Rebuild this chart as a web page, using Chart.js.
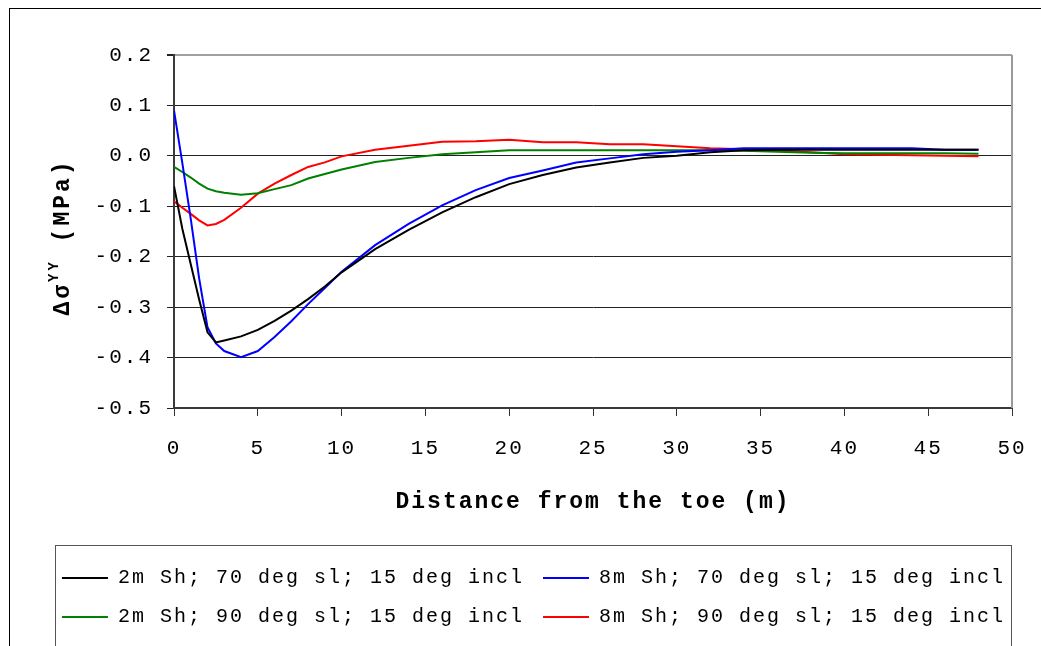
<!DOCTYPE html>
<html>
<head>
<meta charset="utf-8">
<script src="https://cdn.jsdelivr.net/npm/chart.js@4"></script>
<style>
  html, body { margin: 0; padding: 0; background: #fff; }
  #wrap { width: 1041px; height: 646px; }
</style>
</head>
<body>
<div id="wrap"><canvas id="grafico" width="1041" height="646"></canvas></div>
<script>
// Data
const distancias = [0, 0.5, 1, 1.5, 2, 2.5, 3, 4, 5, 6, 7, 8, 9, 10, 12, 14, 16, 18, 20, 22, 24, 26, 28, 30, 32, 34, 36, 38, 40, 42, 44, 46, 48];

const negro2m70 = [-0.060, -0.145, -0.215, -0.285, -0.350, -0.370, -0.366, -0.358, -0.345, -0.327, -0.307, -0.284, -0.259, -0.231, -0.185, -0.147, -0.112, -0.082, -0.056, -0.038, -0.023, -0.013, -0.004, 0.000, 0.007, 0.011, 0.012, 0.012, 0.012, 0.012, 0.012, 0.012, 0.012];
const azul8m70 = [0.090, -0.015, -0.125, -0.243, -0.340, -0.372, -0.387, -0.399, -0.387, -0.359, -0.328, -0.294, -0.262, -0.230, -0.177, -0.135, -0.098, -0.068, -0.044, -0.029, -0.013, -0.005, 0.003, 0.008, 0.011, 0.015, 0.015, 0.015, 0.015, 0.015, 0.015, 0.012, 0.012];
const verde2m90 = [-0.022, -0.032, -0.043, -0.055, -0.065, -0.070, -0.073, -0.077, -0.074, -0.066, -0.058, -0.045, -0.036, -0.027, -0.012, -0.004, 0.003, 0.007, 0.011, 0.011, 0.011, 0.011, 0.011, 0.011, 0.011, 0.010, 0.008, 0.006, 0.005, 0.005, 0.005, 0.005, 0.004];
const rojo8m90 = [-0.090, -0.103, -0.115, -0.128, -0.138, -0.135, -0.127, -0.103, -0.075, -0.055, -0.038, -0.022, -0.013, -0.001, 0.012, 0.020, 0.028, 0.029, 0.032, 0.027, 0.027, 0.023, 0.023, 0.019, 0.015, 0.013, 0.011, 0.007, 0.003, 0.002, 0.001, 0.000, -0.001];

const nombresSeries = [
  "2m Sh; 70 deg sl; 15 deg incl",
  "8m Sh; 70 deg sl; 15 deg incl",
  "2m Sh; 90 deg sl; 15 deg incl",
  "8m Sh; 90 deg sl; 15 deg incl"
];
const coloresSeries = ["#000000", "#0000ff", "#008000", "#ff0000"];
const valoresSeries = [negro2m70, azul8m70, verde2m90, rojo8m90];

const tituloX = "Distance from the toe (m)";
const tituloY = ["Δσ", "YY", " (MPa)"];

const FUENTE = "'Liberation Mono', 'Courier New', monospace";

function armarPuntos(valores) {
  return distancias.map((d, i) => ({ x: d, y: valores[i] }));
}

const datasets = valoresSeries.map((valores, i) => ({
  label: nombresSeries[i],
  data: armarPuntos(valores),
  borderColor: coloresSeries[i],
  backgroundColor: coloresSeries[i],
  borderWidth: 2,
  pointRadius: 0,
  tension: 0,
  fill: false
}));

// spacing, frames and axis titles
const decoracion = {
  id: "decoracion",
  beforeUpdate(chart) {
    chart.ctx.letterSpacing = "2px";
  },
  beforeDraw(chart) {
    const ctx = chart.ctx;
    ctx.letterSpacing = "2px";
    ctx.save();
    ctx.fillStyle = "#ffffff";
    ctx.fillRect(0, 0, chart.width, chart.height);
    ctx.restore();
  },
  afterDraw(chart) {
    const ctx = chart.ctx;
    const area = chart.chartArea;
    ctx.save();

    // right border of the plot
    ctx.strokeStyle = "#9a9a9a";
    ctx.lineWidth = 2;
    ctx.beginPath();
    ctx.moveTo(area.right, area.top);
    ctx.lineTo(area.right, area.bottom);
    ctx.stroke();

    // outer frame
    ctx.strokeStyle = "#000000";
    ctx.lineWidth = 1;
    ctx.strokeRect(9.5, 8.5, 1200, 800);

    // legend frame
    const lg = chart.legend;
    ctx.strokeStyle = "#555555";
    ctx.strokeRect(55.5, lg.top - 3.5, 956, 120);

    // x title
    ctx.fillStyle = "#000000";
    ctx.letterSpacing = "2px";
    ctx.font = "bold 23px " + FUENTE;
    ctx.textAlign = "center";
    ctx.textBaseline = "middle";
    ctx.fillText(tituloX, (area.left + area.right) / 2, 502);

    // y title, rotated, with superscript
    ctx.letterSpacing = "3px";
    ctx.translate(62, 237);
    ctx.rotate(-Math.PI / 2);
    ctx.textAlign = "left";
    ctx.textBaseline = "alphabetic";
    const fGrande = "bold 23px " + FUENTE;
    const fChica = "bold 14px " + FUENTE;
    ctx.font = fGrande;
    const w1 = ctx.measureText(tituloY[0]).width;
    ctx.font = fChica;
    const w2 = ctx.measureText(tituloY[1]).width;
    ctx.font = fGrande;
    const w3 = ctx.measureText(tituloY[2]).width;
    let x0 = -(w1 + w2 + w3) / 2;
    ctx.font = fGrande;
    ctx.fillText(tituloY[0], x0, 7);
    ctx.font = fChica;
    ctx.fillText(tituloY[1], x0 + w1, -4);
    ctx.font = fGrande;
    ctx.fillText(tituloY[2], x0 + w1 + w2, 7);

    ctx.restore();
  }
};

new Chart(document.getElementById("grafico"), {
  type: "line",
  data: { datasets: datasets },
  options: {
    responsive: false,
    animation: false,
    layout: { padding: { top: 55, left: 26, right: 0, bottom: 9 } },
    plugins: {
      tooltip: { enabled: false },
      title: { display: false },
      legend: {
        display: true,
        position: "bottom",
        labels: {
          color: "#000000",
          font: { family: FUENTE, size: 20 },
          boxWidth: 46,
          boxHeight: 2,
          padding: 19,
          generateLabels: (chart) =>
            Chart.defaults.plugins.legend.labels
              .generateLabels(chart)
              .map((l) => ({ ...l, lineWidth: 0 }))
        }
      }
    },
    scales: {
      x: {
        type: "linear",
        min: 0,
        max: 50,
        afterFit: (scale) => { scale.height = 141; },
        ticks: {
          stepSize: 5,
          color: "#000000",
          font: { family: FUENTE, size: 21 },
          padding: 3,
          maxRotation: 0
        },
        grid: {
          drawOnChartArea: false,
          drawTicks: true,
          tickLength: 25,
          tickBorderDash: [7, 100],
          color: "#333333"
        },
        border: { color: "#3a3a3a", width: 2 }
      },
      y: {
        min: -0.5,
        max: 0.2,
        afterFit: (scale) => { scale.width = 148; },
        ticks: {
          stepSize: 0.1,
          color: "#000000",
          font: { family: FUENTE, size: 21 },
          padding: 14,
          callback: (v) => (Math.abs(v) < 1e-9 ? 0 : v).toFixed(1)
        },
        grid: {
          tickLength: 7,
          tickColor: "#222222",
          color: (c) => (c.tick && Math.abs(c.tick.value - 0.2) < 1e-6 ? "#a0a0a0" : "#222222"),
          lineWidth: (c) => (c.tick && Math.abs(c.tick.value - 0.2) < 1e-6 ? 2 : 1)
        },
        border: { color: "#3a3a3a", width: 2 }
      },
      derecha: {
        position: "right",
        min: -0.5,
        max: 0.2,
        afterFit: (scale) => { scale.width = 29; },
        ticks: { display: false },
        grid: { drawOnChartArea: false, drawTicks: false },
        border: { display: false }
      }
    }
  },
  plugins: [decoracion]
});
</script>
</body>
</html>
